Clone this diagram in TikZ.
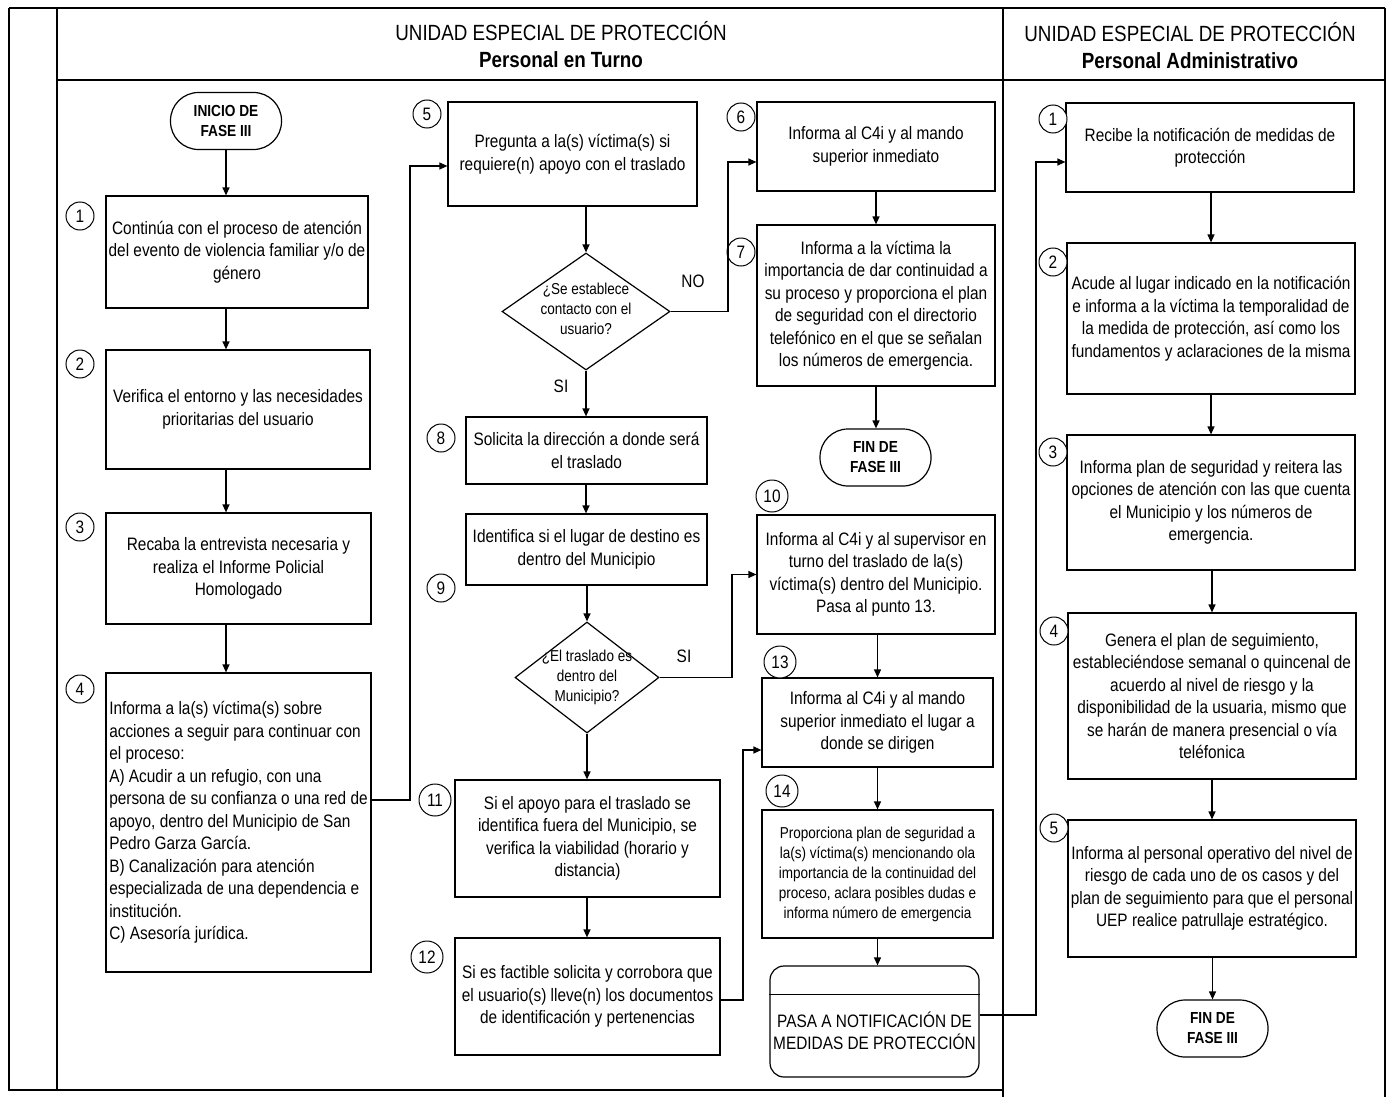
\documentclass[tikz,border=0pt]{standalone}
\usepackage{fontspec}
\setmainfont{Liberation Sans}[FakeStretch=0.855]
\usetikzlibrary{arrows.meta,shapes.geometric,positioning,calc}
\newcommand{\fcaja}{\fontsize{18}{22.5}\selectfont}
\newcommand{\fchica}{\fontsize{15.8}{20}\selectfont}
\newcommand{\fnum}{\fontsize{18}{20}\selectfont}
\newcommand{\fenc}{\fontsize{22}{27}\selectfont}
\newcommand{\fterm}{\fontsize{16}{20}\selectfont\bfseries}

\begin{document}
\begin{tikzpicture}[x=1pt,y=-1pt,>={Triangle[length=8pt,width=7pt]},
  caja/.style={draw,line width=1.2pt,align=center,font=\fcaja,inner sep=2pt},
  term/.style={draw,line width=1.2pt,rounded corners=28pt,align=center,font=\fterm,
               minimum width=111pt,minimum height=57pt},
  rombo/.style={draw,line width=1.2pt,diamond,inner sep=0pt},
  num/.style={draw,circle,line width=1pt,fill=white,font=\fnum,minimum size=28pt,inner sep=0pt},
  numg/.style={num,minimum size=32pt},
  flecha/.style={->,line width=1.2pt},
  marco/.style={line width=1.4pt}]
\useasboundingbox (0,0) rectangle (1388,1097);
% marco y encabezados
\draw[marco] (9,8) -- (1385,8);
\draw[marco] (9,8) -- (9,1090) -- (1003,1090);
\draw[marco] (57,8) -- (57,1090);
\draw[marco] (57,80) -- (1385,80);
\draw[marco] (1003,8) -- (1003,1097);
\draw[marco] (1385,8) -- (1385,1097);
\node (encA) [font=\fenc,align=center] at (561,44.5)
      {UNIDAD ESPECIAL DE PROTECCIÓN\\ \textbf{Personal en Turno}};
\node (encB) [font=\fenc,align=center] at (1190,45.5)
      {UNIDAD ESPECIAL DE PROTECCIÓN\\ \textbf{Personal Administrativo}};

% columna 1
\node (ini) [term] at (226,121) {INICIO DE\\FASE III};
\node (b1) [caja,minimum width=262pt,minimum height=112pt] at (237,252)
      {Continúa con el proceso de atención\\del evento de violencia familiar y/o de\\género};
\node (b2) [caja,minimum width=264pt,minimum height=119pt] at (238,409.5)
      {Verifica el entorno y las necesidades\\prioritarias del usuario};
\node (b3) [caja,minimum width=265pt,minimum height=111pt] at (238.5,568.5)
      {Recaba la entrevista necesaria y\\realiza el Informe Policial\\Homologado};
\node (b4) [caja,align=left,minimum width=265pt,minimum height=299pt] at (238.5,822.5)
      {Informa a la(s) víctima(s) sobre\\acciones a seguir para continuar con\\el proceso:\\
       A) Acudir a un refugio, con una\\persona de su confianza o una red de\\
       apoyo, dentro del Municipio de San\\Pedro Garza García.\\
       B) Canalización para atención\\especializada de una dependencia e\\
       institución.\\C) Asesoría jurídica.};
\node (n1) [num] at (80,216) {1};
\node (n2) [num] at (80,364) {2};
\node (n3) [num] at (80,527) {3};
\node (n4) [num] at (80,689) {4};

% columna 2
\node (b5) [caja,minimum width=249pt,minimum height=104pt] at (572.5,154)
      {Pregunta a la(s) víctima(s) si\\requiere(n) apoyo con el traslado};
\node (d1) [rombo,minimum width=168pt,minimum height=117pt] at (586,311.5) {};
\node (d1t) [font=\fchica,align=center] at (586,309) {¿Se establece\\contacto con el\\usuario?};
\node (b8) [caja,minimum width=241pt,minimum height=67pt] at (586.5,450.5)
      {Solicita la dirección a donde será\\el traslado};
\node (b9) [caja,minimum width=241pt,minimum height=71pt] at (586.5,549.5)
      {Identifica si el lugar de destino es\\dentro del Municipio};
\node (d2) [rombo,minimum width=144pt,minimum height=111pt] at (587,677.5) {};
\node (d2t) [font=\fchica,align=center] at (587,677) {¿El traslado es\\dentro del\\Municipio?};
\node (b11) [caja,minimum width=265pt,minimum height=117pt] at (587.5,838.5)
      {Si el apoyo para el traslado se\\identifica fuera del Municipio, se\\verifica la viabilidad (horario y\\distancia)};
\node (b12) [caja,minimum width=265pt,minimum height=117pt] at (587.5,996.5)
      {Si es factible solicita y corrobora que\\el usuario(s) lleve(n) los documentos\\de identificación y pertenencias};
\node (n5) [num] at (427,114) {5};
\node (n8) [num] at (441,438) {8};
\node (n9) [num] at (441,588) {9};
\node (n11) [numg] at (435,800) {11};
\node (n12) [numg] at (427,957) {12};
\node (lno) [font=\fcaja] at (693,281) {NO};
\node (lsi1) [font=\fcaja] at (561,386) {SI};
\node (lsi2) [font=\fcaja] at (684,656) {SI};

% columna 3
\node (b6) [caja,minimum width=238pt,minimum height=89pt] at (876,146.5)
      {Informa al C4i y al mando\\superior inmediato};
\node (b7) [caja,minimum width=238pt,minimum height=161pt] at (876,305.5)
      {Informa a la víctima la\\importancia de dar continuidad a\\su proceso y proporciona el plan\\
       de seguridad con el directorio\\telefónico en el que se señalan\\los números de emergencia.};
\node (fin1) [term] at (875.5,457.5) {FIN DE\\FASE III};
\node (b10) [caja,minimum width=238pt,minimum height=119pt] at (876,574.5)
      {Informa al C4i y al supervisor en\\turno del traslado de la(s)\\víctima(s) dentro del Municipio.\\Pasa al punto 13.};
\node (b13) [caja,minimum width=231pt,minimum height=89pt] at (877.5,722.5)
      {Informa al C4i y al mando\\superior inmediato el lugar a\\donde se dirigen};
\node (b14) [caja,font=\fchica,minimum width=231pt,minimum height=128pt] at (877.5,874)
      {Proporciona plan de seguridad a\\la(s) víctima(s) mencionando ola\\importancia de la continuidad del\\
       proceso, aclara posibles dudas e\\informa número de emergencia};
\node (pasa) [draw,line width=1.2pt,rounded corners=14pt,minimum width=209pt,minimum height=111pt]
      at (874.5,1021.5) {};
\draw[line width=1.2pt] ($(pasa.north west)+(0,29)$) -- ($(pasa.north east)+(0,29)$);
\node (pasat) [font=\fcaja,align=center] at (874.5,1031)
      {PASA A NOTIFICACIÓN DE\\MEDIDAS DE PROTECCIÓN};
\node (n6) [num] at (741,117) {6};
\node (n7) [num] at (741,252) {7};
\node (n10) [numg] at (772,496) {10};
\node (n13) [numg] at (780,662) {13};
\node (n14) [numg] at (782,791) {14};

% columna 4
\node (r1) [caja,minimum width=288pt,minimum height=89pt] at (1210,147.5)
      {Recibe la notificación de medidas de\\protección};
\node (r2) [caja,minimum width=288pt,minimum height=151pt] at (1211,318.5)
      {Acude al lugar indicado en la notificación\\e informa a la víctima la temporalidad de\\
       la medida de protección, así como los\\fundamentos y aclaraciones de la misma};
\node (r3) [caja,minimum width=288pt,minimum height=135pt] at (1211,502.5)
      {Informa plan de seguridad y reitera las\\opciones de atención con las que cuenta\\
       el Municipio y los números de\\emergencia.};
\node (r4) [caja,minimum width=288pt,minimum height=166pt] at (1212,696)
      {Genera el plan de seguimiento,\\estableciéndose semanal o quincenal de\\acuerdo al nivel de riesgo y la\\
       disponibilidad de la usuaria, mismo que\\se harán de manera presencial o vía\\teléfonica};
\node (r5) [caja,minimum width=288pt,minimum height=137pt] at (1212,888.5)
      {Informa al personal operativo del nivel de\\riesgo de cada uno de os casos y del\\
       plan de seguimiento para que el personal\\UEP realice patrullaje estratégico.};
\node (fin2) [term] at (1212.5,1028.5) {FIN DE\\FASE III};
\node (m1) [num] at (1053,119) {1};
\node (m2) [num] at (1053,262) {2};
\node (m3) [num] at (1053,452) {3};
\node (m4) [num] at (1054,631) {4};
\node (m5) [num] at (1054,828) {5};

% conectores
\coordinate (k4) at (410,800);
\coordinate (kd1) at (728,311.5);
\coordinate (kd2) at (732,677.5);
\coordinate (k12) at (743,1000);
\coordinate (kp) at (1036,1015);
\draw[flecha] (ini) -- (ini |- b1.north);
\draw[flecha] (b1.south -| ini) -- (b2.north -| ini);
\draw[flecha] (b2.south -| ini) -- (b3.north -| ini);
\draw[flecha] (b3.south -| ini) -- (b4.north -| ini);
\draw[flecha] (b4.east |- k4) -- (k4) |- ($(b5.west)+(0,12)$);
\draw[flecha] (b5.south -| d1) -- (d1.north);
\draw[flecha] (d1.east) -- (kd1) |- ($(b6.west)+(0,15.5)$);
\draw[flecha] (d1.south) -- (b8.north -| d1);
\draw[flecha] (b8.south -| d1) -- (b9.north -| d1);
\draw[flecha] (b9.south -| d2) -- (d2.north);
\draw[flecha] (d2.east) -- (kd2) |- (b10.west);
\draw[flecha] (d2.south) -- (b11.north -| d2);
\draw[flecha] (b11.south -| d2) -- (b12.north -| d2);
\draw[flecha] (b12.east |- k12) -- (k12) |- ($(b13.west)+(0,27.5)$);
\draw[flecha] (b6) -- (b7);
\draw[flecha] (b7.south) -- (b7.south |- fin1.north);
\draw[flecha] (b10.south -| b13) -- (b13.north);
\draw[flecha] (b13) -- (b14);
\draw[flecha] (b14.south) -- (b14.south |- pasa.north);
\draw[flecha] (pasa.east |- kp) -- (kp) |- ($(r1.west)+(0,14.5)$);
\draw[flecha] (r1.south -| r2) -- (r2.north);
\draw[flecha] (r2) -- (r3);
\draw[flecha] (r3.south -| r4) -- (r4.north);
\draw[flecha] (r4) -- (r5);
\draw[flecha] (r5.south -| fin2) -- (fin2.north);
\end{tikzpicture}
\end{document}
